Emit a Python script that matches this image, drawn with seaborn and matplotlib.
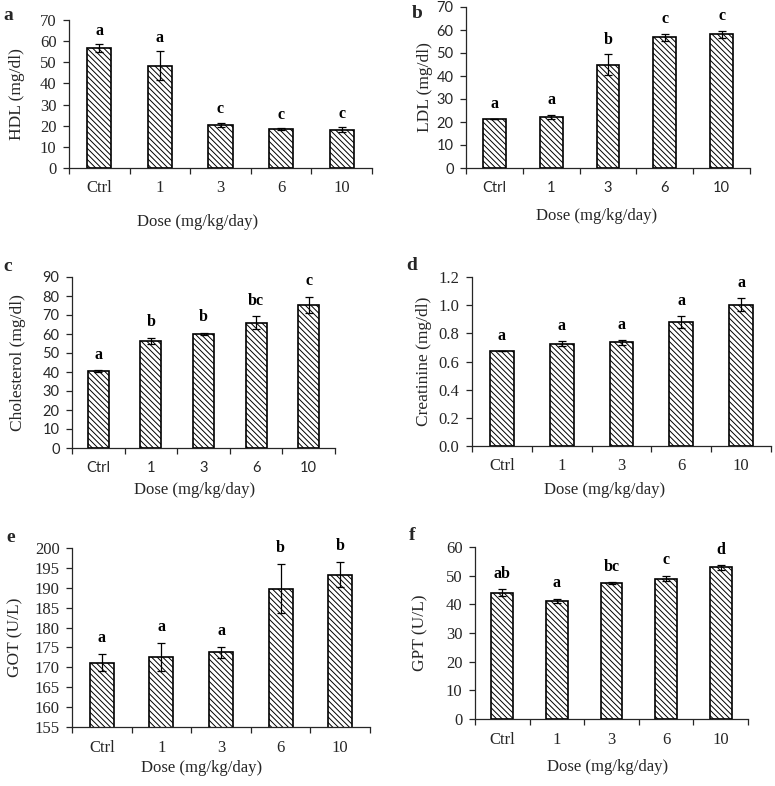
import numpy as np
import pandas as pd
import matplotlib
matplotlib.use('Agg')
import matplotlib.pyplot as plt
import matplotlib.transforms as mtransforms
import seaborn as sns

# ── Data ─────────────────────────────────────────────────────
DOSES = ['Ctrl', '1', '3', '6', '10']

HDL_MEAN = [56.8, 48.4, 20.4, 18.5, 18.1]
HDL_ERR  = [1.8, 7.0, 1.0, 0.5, 1.2]
HDL_LET  = ['a', 'a', 'c', 'c', 'c']

LDL_MEAN = [21.3, 22.3, 44.9, 56.8, 58.1]
LDL_ERR  = [0.2, 0.8, 4.5, 1.5, 1.5]
LDL_LET  = ['a', 'a', 'b', 'c', 'c']

CHOL_MEAN = [40.5, 56.5, 60.0, 66.0, 75.2]
CHOL_ERR  = [0.4, 1.6, 0.7, 3.5, 4.4]
CHOL_LET  = ['a', 'b', 'b', 'bc', 'c']

CREA_MEAN = [0.675, 0.727, 0.735, 0.882, 1.003]
CREA_ERR  = [0.0, 0.02, 0.018, 0.043, 0.045]
CREA_LET  = ['a', 'a', 'a', 'a', 'a']

GOT_MEAN = [171.2, 172.6, 173.8, 189.8, 193.3]
GOT_ERR  = [2.2, 3.5, 1.4, 6.1, 3.1]
GOT_LET  = ['a', 'a', 'a', 'b', 'b']

GPT_MEAN = [44.0, 41.1, 47.4, 49.0, 52.9]
GPT_ERR  = [1.2, 0.8, 0.3, 0.9, 0.8]
GPT_LET  = ['ab', 'a', 'bc', 'c', 'd']

sns.set_theme(style='ticks')
plt.rcParams['font.family'] = ['Liberation Serif', 'DejaVu Serif']
plt.rcParams['hatch.linewidth'] = 0.7
plt.rcParams['axes.linewidth'] = 0.9

W, H = 775, 786
fig = plt.figure(figsize=(W / 100, H / 100), dpi=100)

def fx(px):
    return px / W

def fy(py):
    return 1 - py / H

# panel: tag, ylabel, mean, err, letters, ylim, ystep, fmt, sans ticks,
#        axes box in px (left, top, right, bottom), ylabel x, xlabel (x, y), tag (x, y)
PANELS = [
    ('a', 'HDL (mg/dl)', HDL_MEAN, HDL_ERR, HDL_LET, (0, 70), 10, '{:.0f}', False,
     (69, 20, 372, 168), 17, (198, 222), (8, 15)),
    ('b', 'LDL (mg/dl)', LDL_MEAN, LDL_ERR, LDL_LET, (0, 70), 10, '{:.0f}', True,
     (466, 7, 750, 168), 425, (597, 216), (417, 14)),
    ('c', 'Cholesterol (mg/dl)', CHOL_MEAN, CHOL_ERR, CHOL_LET, (0, 90), 10, '{:.0f}', True,
     (72, 277, 335, 448), 18, (195, 490), (8, 266)),
    ('d', 'Creatinine (mg/dl)', CREA_MEAN, CREA_ERR, CREA_LET, (0, 1.2), 0.2, '{:.1f}', False,
     (472, 277, 771, 446), 424, (605, 490), (412, 265)),
    ('e', 'GOT (U/L)', GOT_MEAN, GOT_ERR, GOT_LET, (155, 200), 5, '{:.0f}', False,
     (72, 548, 370, 727), 15, (202, 768), (11, 538)),
    ('f', 'GPT (U/L)', GPT_MEAN, GPT_ERR, GPT_LET, (0, 60), 10, '{:.0f}', False,
     (475, 547, 748, 719), 420, (608, 767), (412, 536)),
]

for (tag, ylab, mean, err, letters, ylim, ystep, fmt, sans,
     box, ylab_x, xlab_xy, tag_xy) in PANELS:
    l, t, r, b = box
    ax = fig.add_axes([fx(l), fy(b), fx(r - l), (b - t) / H])
    df = pd.DataFrame({'dose': DOSES, 'value': mean})

    sns.barplot(data=df, x='dose', y='value', order=DOSES, width=0.4,
                color='white', edgecolor='black', linewidth=1.2,
                hatch='\\' * 6, errorbar=None, ax=ax)
    for p in ax.patches:
        p.set_facecolor('white')
    ax.errorbar(np.arange(len(DOSES)), mean, yerr=err, fmt='none',
                ecolor='black', elinewidth=0.9, capsize=3, capthick=0.9)

    rng = ylim[1] - ylim[0]
    for i, (m, e, let) in enumerate(zip(mean, err, letters)):
        ax.text(i, m + e + 0.09 * rng, let, ha='center', va='center',
                fontsize=11.5, fontweight='bold', color='black')

    ax.set_ylim(*ylim)
    ax.set_xlim(-0.5, len(DOSES) - 0.5)
    yt = np.arange(ylim[0], ylim[1] + ystep / 2, ystep)
    ax.set_yticks(yt)
    ax.set_yticklabels([fmt.format(v) for v in yt])
    ax.set_xticks(np.arange(len(DOSES)))
    ax.set_xticklabels(DOSES)
    ax.set_xticks(np.arange(-0.5, len(DOSES)), minor=True)
    ax.tick_params(axis='x', which='major', length=0, pad=9)
    ax.tick_params(axis='x', which='minor', length=4, width=0.9, direction='out')
    ax.tick_params(axis='y', length=4, width=0.9, direction='out', pad=5)

    tick_family = ['Lato', 'DejaVu Sans'] if sans else ['Liberation Serif', 'DejaVu Serif']
    tick_size = 10.5 if sans else 12
    for lab in ax.get_xticklabels() + ax.get_yticklabels():
        lab.set_fontfamily(tick_family)
        lab.set_fontsize(tick_size)

    sns.despine(ax=ax)
    ax.set_ylabel(ylab, fontsize=12.5)
    ax.set_xlabel('Dose (mg/kg/day)', fontsize=12)
    ylab_tr = mtransforms.blended_transform_factory(fig.transFigure, ax.transAxes)
    xlab_tr = mtransforms.blended_transform_factory(fig.transFigure, fig.transFigure)
    ax.yaxis.set_label_coords(fx(ylab_x), 0.5, transform=ylab_tr)
    ax.xaxis.set_label_coords(fx(xlab_xy[0]), fy(xlab_xy[1]), transform=xlab_tr)
    ax.xaxis.label.set_va('center')
    ax.yaxis.label.set_va('center')

    fig.text(fx(tag_xy[0]), fy(tag_xy[1]), tag, fontsize=14, fontweight='bold',
             ha='center', va='center')

fig.savefig('out.png', dpi=100)
